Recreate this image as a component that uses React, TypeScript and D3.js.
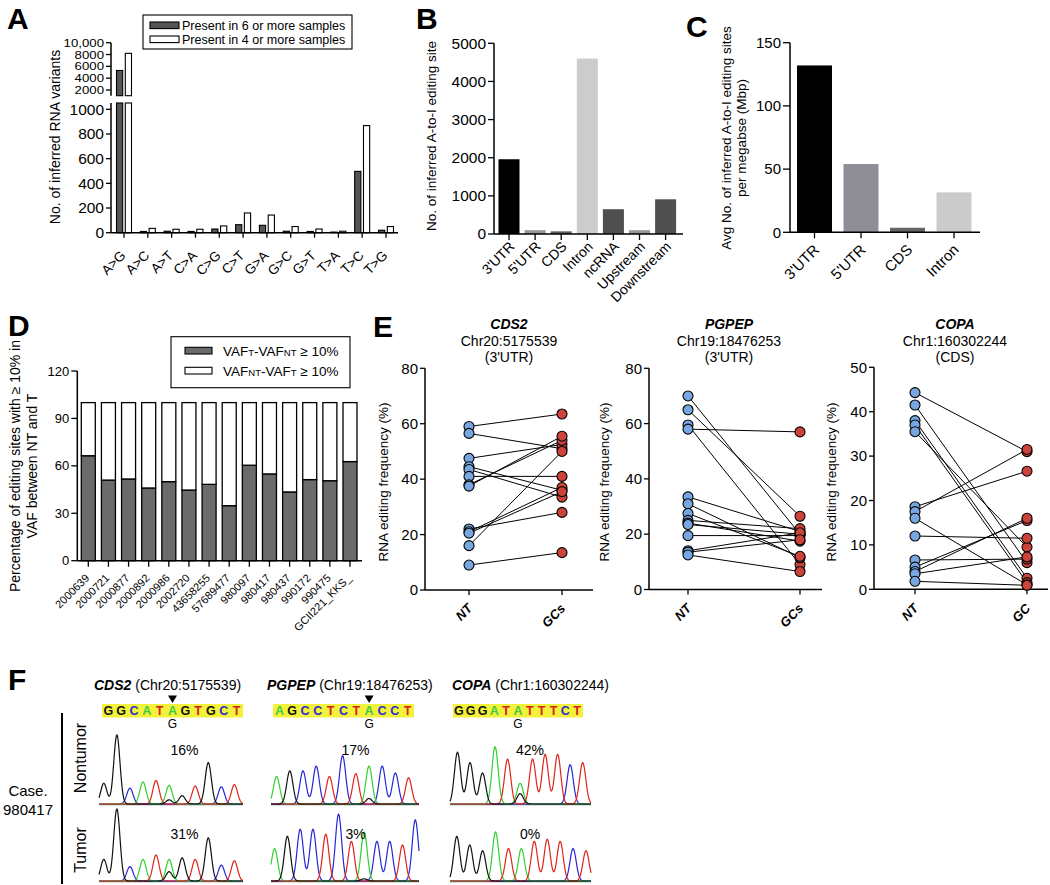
import React from 'react';
import * as d3 from 'd3';

const FONT = "'Liberation Sans', Arial, Helvetica, sans-serif";

// ---------- Panel A data ----------
const mutTypes = ['A>G', 'A>C', 'A>T', 'C>A', 'C>G', 'C>T', 'G>A', 'G>C', 'G>T', 'T>A', 'T>C', 'T>G'];
const present6 = [5300, 10, 12, 10, 30, 65, 60, 12, 10, 5, 497, 20];
const present4 = [8200, 35, 28, 28, 55, 160, 143, 50, 30, 12, 868, 50];
const aUpperTicks = [2000, 4000, 6000, 8000, 10000];
const aUpperTickLabels = ['2000', '4000', '6000', '8000', '10,000'];
const aLowerTicks = [0, 200, 400, 600, 800, 1000];
const aLegend = ['Present in 6 or more samples', 'Present in 4 or more samples'];

// ---------- Panel B data ----------
const regionsB = ["3'UTR", "5'UTR", 'CDS', 'Intron', 'ncRNA', 'Upstream', 'Downstream'];
const sitesB = [1960, 100, 70, 4600, 650, 100, 910];
const colorsB = ['#000000', '#97959c', '#5e5e5e', '#cccccc', '#4f4f4f', '#97959c', '#4f4f4f'];
const bTicks = [0, 1000, 2000, 3000, 4000, 5000];

// ---------- Panel C data ----------
const regionsC = ["3'UTR", "5'UTR", 'CDS', 'Intron'];
const densityC = [132, 54, 3.6, 31.6];
const colorsC = ['#000000', '#8f8d95', '#676767', '#cbcbcb'];
const cTicks = [0, 50, 100, 150];

// ---------- Panel D data ----------
const samplesD = ['2000639', '2000721', '2000877', '2000892', '2000986', '2002720', '43658255', '57689477', '980097', '980417', '980437', '990172', '990475', 'GCII221_KKS_'];
const upD = [66.4, 51, 51.7, 46, 50, 44.7, 48.3, 34.8, 60.4, 54.9, 43.5, 51.3, 50.6, 62.7];
const downD = [33.6, 49, 48.3, 54, 50, 55.3, 51.7, 65.2, 39.6, 45.1, 56.5, 48.7, 49.4, 37.3];
const dTicks = [0, 30, 60, 90, 120];

// ---------- Panel E data ----------
const e1NT = [59, 56.5, 47.5, 44.5, 43.5, 41, 38, 37.5, 22, 21, 20.5, 16, 9];
const e1GC = [63.5, 51, 52.5, 36, 33.5, 41, 54, 55.5, 28, 37, 35.5, 50, 13.5];
const e2NT = [70, 65, 59.5, 58, 33.5, 31, 27.5, 25, 24, 23.5, 19.5, 14, 13.5, 12.5];
const e2GC = [20, 26.5, 9, 57, 21, 11.5, 12, 22, 17.5, 20, 19.5, 20.5, 18, 6.5];
const e3NT = [44.3, 41.5, 38, 37, 35.5, 18.6, 17.5, 16, 12, 6.6, 5, 4, 3.5, 1.8];
const e3GC = [31, 6, 2.5, 1.5, 9.5, 26.6, 31.5, 1, 11.5, 6.8, 15.5, 16, 7.3, 0.9];
const eTicks80 = [0, 20, 40, 60, 80];
const eTicks50 = [0, 10, 20, 30, 40, 50];

// ---------- Panel F data ----------
const seqCDS2 = 'GGCATAGTGCT';
const seqPGPEP = 'AGCCTCTACCT';
const seqCOPA = 'GGGATATTTCT';
const editIdx = [5, 7, 5];
const pctNT = ['16%', '17%', '42%'];
const pctT = ['31%', '3%', '0%'];
// [base index, base, relative peak height]
const cds2NT = [[0, 'G', .3], [1, 'G', 1], [2, 'C', .23], [3, 'A', .32], [4, 'T', .34], [5, 'A', .27], [5, 'G', .06], [6, 'G', .12], [7, 'T', .26], [8, 'G', .6], [9, 'C', .25], [10, 'T', .28]];
const cds2T = [[0, 'G', .3], [1, 'G', 1], [2, 'C', .2], [3, 'A', .3], [4, 'T', .36], [5, 'A', .3], [5, 'G', .13], [6, 'G', .32], [7, 'T', .3], [8, 'G', .6], [9, 'C', .22], [10, 'T', .28]];
const pgpepNT = [[0, 'A', .4], [1, 'G', .48], [2, 'C', .48], [3, 'C', .55], [4, 'T', .4], [5, 'C', .7], [6, 'T', .44], [7, 'A', .55], [7, 'G', .08], [8, 'C', .55], [9, 'C', .45], [10, 'T', .38]];
const pgpepT = [[0, 'A', .45], [1, 'G', .62], [2, 'C', .72], [3, 'C', .72], [4, 'T', .65], [5, 'C', .93], [6, 'T', .55], [7, 'A', .68], [7, 'G', .03], [8, 'C', .55], [9, 'C', .55], [10, 'T', .5], [11, 'C', .85]];
const copaNT = [[0, 'G', .75], [1, 'G', .6], [2, 'G', .45], [3, 'A', .83], [4, 'T', .65], [5, 'A', .3], [5, 'G', .15], [6, 'T', .65], [7, 'T', .72], [8, 'T', .72], [9, 'C', .57], [10, 'T', .6]];
const copaT = [[0, 'G', .62], [1, 'G', .5], [2, 'G', .42], [3, 'A', .68], [4, 'T', .45], [5, 'A', .45], [6, 'T', .55], [7, 'T', .58], [8, 'T', .55], [9, 'C', .45], [10, 'T', .42]];

const baseColor: Record<string, string> = { G: '#111111', A: '#2fd12f', C: '#2626d6', T: '#e0231b' };
const seqColor: Record<string, string> = { G: '#111111', A: '#45c845', C: '#2c2cd0', T: '#d82020' };

const PanelLabel = ({ x, y, t }: { x: number; y: number; t: string }) => (
  <text x={x} y={y} fontSize={30} fontWeight="bold" fontFamily="'Liberation Sans', Arial">{t}</text>
);

const RotLabel = ({ x, y, t, size, weight, style }: any) => (
  <text transform={`translate(${x},${y}) rotate(-45)`} textAnchor="end" dy="0.35em" fontSize={size}
    fontWeight={weight || 'normal'} fontStyle={style || 'normal'} fill="#000">{t}</text>
);

function PanelA() {
  const xs = d3.scalePoint<string>().domain(mutTypes).range([124, 386]);
  const yL = d3.scaleLinear().domain([0, 1000]).range([232.7, 109.3]);
  const yU = d3.scaleLinear().domain([2000, 10000]).range([90, 42.7]);
  const axisX = 111;
  const lowTop = 103, upBottom = 95.7;
  const bar = (v: number, x: number, w: number, fill: string, key: string) => {
    if (v <= 1000) {
      return <rect key={key} x={x} y={yL(v)} width={w} height={yL(0) - yL(v)} fill={fill} stroke="#000" strokeWidth={1.1} />;
    }
    return (
      <g key={key}>
        <rect x={x} y={lowTop} width={w} height={yL(0) - lowTop} fill={fill} stroke="#000" strokeWidth={1.1} />
        <rect x={x} y={yU(v)} width={w} height={upBottom - yU(v)} fill={fill} stroke="#000" strokeWidth={1.1} />
      </g>
    );
  };
  return (
    <g>
      <PanelLabel x={7} y={29} t="A" />
      {mutTypes.map((m, i) => {
        const cx = xs(m)!;
        return (
          <g key={m}>
            {bar(present6[i], cx - 7.5, 6.2, '#555555', 'd')}
            {bar(present4[i], cx + 1.3, 6.2, '#ffffff', 'w')}
          </g>
        );
      })}
      <line x1={axisX} x2={axisX} y1={42.7} y2={upBottom} stroke="#000" strokeWidth={1.5} />
      <line x1={axisX} x2={axisX} y1={lowTop} y2={yL(0)} stroke="#000" strokeWidth={1.5} />
      {aUpperTicks.map((t, i) => (
        <g key={t}>
          <line x1={axisX - 5} x2={axisX} y1={yU(t)} y2={yU(t)} stroke="#000" strokeWidth={1.3} />
          <text x={axisX - 7} y={yU(t)} dy="0.35em" textAnchor="end" fontSize={11.5} transform={`translate(${axisX - 7},${yU(t)}) scale(1.15,1) translate(${-(axisX - 7)},${-yU(t)})`}>{aUpperTickLabels[i]}</text>
        </g>
      ))}
      {aLowerTicks.map((t) => (
        <g key={t}>
          <line x1={axisX - 5} x2={axisX} y1={yL(t)} y2={yL(t)} stroke="#000" strokeWidth={1.3} />
          <text x={axisX - 7} y={yL(t)} dy="0.35em" textAnchor="end" fontSize={15.5}>{t}</text>
        </g>
      ))}
      <line x1={axisX} x2={398} y1={yL(0)} y2={yL(0)} stroke="#000" strokeWidth={1.5} />
      {mutTypes.map((m) => (
        <g key={m}>
          <line x1={xs(m)} x2={xs(m)} y1={yL(0)} y2={yL(0) + 5} stroke="#000" strokeWidth={1.3} />
          <RotLabel x={xs(m)! - 1} y={253} t={m} size={13.5} />
        </g>
      ))}
      <text transform="translate(60,137) rotate(-90)" textAnchor="middle" fontSize={14}>No. of inferred RNA variants</text>
      <rect x={143} y={15} width={209} height={34} fill="#fff" stroke="#000" strokeWidth={1.1} />
      <rect x={150} y={22} width={29} height={6.6} fill="#555" stroke="#000" strokeWidth={1.1} />
      <rect x={150} y={36} width={29} height={6.6} fill="#fff" stroke="#000" strokeWidth={1.1} />
      <text x={182} y={29.5} fontSize={12.5}>{aLegend[0]}</text>
      <text x={182} y={43.5} fontSize={12.5}>{aLegend[1]}</text>
    </g>
  );
}

function PanelB() {
  const xs = d3.scalePoint<string>().domain(regionsB).range([509, 665.6]);
  const y = d3.scaleLinear().domain([0, 5000]).range([234, 43.3]);
  const axisX = 494;
  return (
    <g>
      <PanelLabel x={416} y={29} t="B" />
      {regionsB.map((r, i) => (
        <rect key={r} x={xs(r)! - 10.5} y={y(sitesB[i])} width={21} height={y(0) - y(sitesB[i])} fill={colorsB[i]} />
      ))}
      <line x1={axisX} x2={axisX} y1={y(5000)} y2={y(0)} stroke="#000" strokeWidth={1.5} />
      {bTicks.map((t) => (
        <g key={t}>
          <line x1={axisX - 6} x2={axisX} y1={y(t)} y2={y(t)} stroke="#000" strokeWidth={1.3} />
          <text x={axisX - 8} y={y(t)} dy="0.35em" textAnchor="end" fontSize={15.5}>{t}</text>
        </g>
      ))}
      <line x1={axisX} x2={683} y1={y(0)} y2={y(0)} stroke="#000" strokeWidth={1.5} />
      {regionsB.map((r) => (
        <g key={r}>
          <line x1={xs(r)} x2={xs(r)} y1={y(0)} y2={y(0) + 6} stroke="#000" strokeWidth={1.3} />
          <RotLabel x={xs(r)! + 3} y={244} t={r} size={14} />
        </g>
      ))}
      <text transform="translate(436,136) rotate(-90)" textAnchor="middle" fontSize={13.5}>No. of inferred A-to-I editing site</text>
    </g>
  );
}

function PanelC() {
  const xs = d3.scalePoint<string>().domain(regionsC).range([814.5, 954]);
  const y = d3.scaleLinear().domain([0, 150]).range([232.3, 42.7]);
  const axisX = 790;
  return (
    <g>
      <PanelLabel x={686} y={37} t="C" />
      {regionsC.map((r, i) => (
        <rect key={r} x={xs(r)! - 17.5} y={y(densityC[i])} width={35} height={y(0) - y(densityC[i])} fill={colorsC[i]} />
      ))}
      <line x1={axisX} x2={axisX} y1={y(150)} y2={y(0)} stroke="#000" strokeWidth={1.5} />
      {cTicks.map((t) => (
        <g key={t}>
          <line x1={axisX - 7} x2={axisX} y1={y(t)} y2={y(t)} stroke="#000" strokeWidth={1.3} />
          <text x={axisX - 9} y={y(t)} dy="0.35em" textAnchor="end" fontSize={15}>{t}</text>
        </g>
      ))}
      <line x1={axisX} x2={980} y1={y(0)} y2={y(0)} stroke="#000" strokeWidth={1.5} />
      {regionsC.map((r) => (
        <g key={r}>
          <line x1={xs(r)} x2={xs(r)} y1={y(0)} y2={y(0) + 6} stroke="#000" strokeWidth={1.3} />
          <RotLabel x={xs(r)! + 2} y={247} t={r} size={15} />
        </g>
      ))}
      <text transform="translate(731,138) rotate(-90)" textAnchor="middle" fontSize={13.5}>Avg No. of inferred A-to-I editing sites</text>
      <text transform="translate(746,138) rotate(-90)" textAnchor="middle" fontSize={13.5}>per megabse (Mbp)</text>
    </g>
  );
}

function PanelD() {
  const xs = d3.scalePoint<string>().domain(samplesD).range([88.3, 350]);
  const y = d3.scaleLinear().domain([0, 120]).range([560.7, 371]);
  const axisX = 77.3;
  const stack = d3.stack<any>().keys(['up', 'down'])(samplesD.map((s, i) => ({ s, up: upD[i], down: downD[i] })));
  return (
    <g>
      <PanelLabel x={8} y={336} t="D" />
      {stack.map((layer, li) => (
        <g key={li}>
          {layer.map((d, i) => (
            <rect key={i} x={xs(samplesD[i])! - 7} y={y(d[1])} width={14} height={y(d[0]) - y(d[1])}
              fill={li === 0 ? '#6b6b6b' : '#ffffff'} stroke="#000" strokeWidth={1.3} />
          ))}
        </g>
      ))}
      <line x1={axisX} x2={axisX} y1={y(120)} y2={y(0)} stroke="#000" strokeWidth={1.5} />
      {dTicks.map((t) => (
        <g key={t}>
          <line x1={axisX - 6} x2={axisX} y1={y(t)} y2={y(t)} stroke="#000" strokeWidth={1.3} />
          <text x={axisX - 8} y={y(t)} dy="0.35em" textAnchor="end" fontSize={13}>{t}</text>
        </g>
      ))}
      <line x1={axisX} x2={362} y1={y(0)} y2={y(0)} stroke="#000" strokeWidth={1.5} />
      {samplesD.map((s) => (
        <g key={s}>
          <line x1={xs(s)} x2={xs(s)} y1={y(0)} y2={y(0) + 6} stroke="#000" strokeWidth={1.3} />
          <RotLabel x={xs(s)! - 1} y={576} t={s} size={11} />
        </g>
      ))}
      <text transform="translate(20,466) rotate(-90)" textAnchor="middle" fontSize={14}>Percentage of editing sites with ≥ 10% in</text>
      <text transform="translate(37,466) rotate(-90)" textAnchor="middle" fontSize={14}>VAF between NT and T</text>
      <rect x={171} y={336.7} width={179} height={51} fill="#fff" stroke="#000" strokeWidth={1.1} />
      <rect x={185} y={347.3} width={27} height={6.7} fill="#6b6b6b" stroke="#000" strokeWidth={1.1} />
      <rect x={185} y={367.3} width={27} height={6.7} fill="#fff" stroke="#000" strokeWidth={1.1} />
      <text x={223} y={355.5} fontSize={13.5}>VAF<tspan fontSize={9.5}>T</tspan>-VAF<tspan fontSize={9.5}>NT</tspan> ≥ 10%</text>
      <text x={223} y={376} fontSize={13.5}>VAF<tspan fontSize={9.5}>NT</tspan>-VAF<tspan fontSize={9.5}>T</tspan> ≥ 10%</text>
    </g>
  );
}

function PairedPlot({ cfg }: any) {
  const { axisX, ntX, gcX, xEnd, yTop, y0, max, ticks, nt, gc, gene, chr, region, titleX, gcLabel, titleYX } = cfg;
  const y = d3.scaleLinear().domain([0, max]).range([y0, yTop]);
  const xs = d3.scalePoint<string>().domain(['NT', gcLabel]).range([ntX, gcX]);
  return (
    <g>
      <text x={titleX} y={329} textAnchor="middle" fontSize={14} fontWeight="bold" fontStyle="italic">{gene}</text>
      <text x={titleX} y={346} textAnchor="middle" fontSize={14}>{chr}</text>
      <text x={titleX} y={362} textAnchor="middle" fontSize={14}>{region}</text>
      <line x1={axisX} x2={axisX} y1={yTop} y2={y0} stroke="#000" strokeWidth={1.5} />
      {ticks.map((t: number) => (
        <g key={t}>
          <line x1={axisX - 5} x2={axisX} y1={y(t)} y2={y(t)} stroke="#000" strokeWidth={1.3} />
          <text x={axisX - 7} y={y(t)} dy="0.35em" textAnchor="end" fontSize={15}>{t}</text>
        </g>
      ))}
      <line x1={axisX} x2={xEnd} y1={y0} y2={y0} stroke="#000" strokeWidth={1.5} />
      {['NT', gcLabel].map((c: string) => (
        <g key={c}>
          <line x1={xs(c)} x2={xs(c)} y1={y0} y2={y0 + 5} stroke="#000" strokeWidth={1.3} />
          <RotLabel x={xs(c)! + 1} y={606} t={c} size={13} weight="bold" style="italic" />
        </g>
      ))}
      {nt.map((v: number, i: number) => (
        <line key={'l' + i} x1={xs('NT')} y1={y(v)} x2={xs(gcLabel)} y2={y(gc[i])} stroke="#000" strokeWidth={1} />
      ))}
      {nt.map((v: number, i: number) => (
        <circle key={'n' + i} cx={xs('NT')} cy={y(v)} r={5} fill="#77a6e0" stroke="#000" strokeWidth={1.1} />
      ))}
      {gc.map((v: number, i: number) => (
        <circle key={'g' + i} cx={xs(gcLabel)} cy={y(v)} r={5} fill="#cc433c" stroke="#000" strokeWidth={1.1} />
      ))}
      <text transform={`translate(${titleYX},482) rotate(-90)`} textAnchor="middle" fontSize={13.5}>RNA editing frequency (%)</text>
    </g>
  );
}

function PanelE() {
  const cfgs = [
    { axisX: 425, ntX: 469, gcX: 562, xEnd: 593, yTop: 368.3, y0: 590, max: 80, ticks: eTicks80, nt: e1NT, gc: e1GC, gene: 'CDS2', chr: 'Chr20:5175539', region: "(3'UTR)", titleX: 509, gcLabel: 'GCs', titleYX: 388 },
    { axisX: 649, ntX: 688, gcX: 800, xEnd: 822, yTop: 368.3, y0: 589.5, max: 80, ticks: eTicks80, nt: e2NT, gc: e2GC, gene: 'PGPEP', chr: 'Chr19:18476253', region: "(3'UTR)", titleX: 729, gcLabel: 'GCs', titleYX: 609 },
    { axisX: 874, ntX: 915, gcX: 1027, xEnd: 1048, yTop: 367.3, y0: 589.3, max: 50, ticks: eTicks50, nt: e3NT, gc: e3GC, gene: 'COPA', chr: 'Chr1:160302244', region: '(CDS)', titleX: 955, gcLabel: 'GC', titleYX: 836 },
  ];
  return (
    <g>
      <PanelLabel x={373} y={337} t="E" />
      {cfgs.map((c, i) => <PairedPlot key={i} cfg={c} />)}
    </g>
  );
}

function Trace({ peaks, x0, x1, n, base, H, xMin, xMax }: any) {
  const xp = d3.scaleLinear().domain([0, n - 1]).range([x0, x1]);
  const sigma = 3.1;
  const bases = ['C', 'A', 'T', 'G'];
  const xsamp = d3.range(xMin, xMax + 0.01, 0.5);
  return (
    <g>
      <line x1={xMin} x2={xMax} y1={base + 0.5} y2={base + 0.5} stroke="#777" strokeWidth={1.6} />
      {bases.map((b) => {
        const pk = peaks.filter((p: any) => p[1] === b);
        if (!pk.length) return null;
        const line = d3.line<number>()
          .x((x) => x)
          .y((x) => base - pk.reduce((s: number, p: any) => s + p[2] * H * Math.exp(-((x - xp(p[0])) ** 2) / (2 * sigma * sigma)), 0));
        return <path key={b} d={line(xsamp) || ''} fill="none" stroke={baseColor[b]} strokeWidth={1.2} />;
      })}
    </g>
  );
}

function PanelF() {
  const cols = [
    { gene: 'CDS2', chr: ' (Chr20:5175539)', seq: seqCDS2, box: [102, 243], titleX: 94, nt: cds2NT, t: cds2T, ntR: [103.8, 234.4, 11], tR: [103.8, 234.4, 11], pan: [99, 243], g: true },
    { gene: 'PGPEP', chr: ' (Chr19:18476253)', seq: seqPGPEP, box: [273, 414], titleX: 267, nt: pgpepNT, t: pgpepT, ntR: [276.6, 408.6, 11], tR: [274.6, 415.3, 12], pan: [271, 419], g: true },
    { gene: 'COPA', chr: ' (Chr1:160302244)', seq: seqCOPA, box: [453, 583], titleX: 452, nt: copaNT, t: copaT, ntR: [457.5, 582.7, 11], tR: [456.8, 586, 11], pan: [450, 591], g: false },
  ];
  return (
    <g>
      <PanelLabel x={8} y={690} t="F" />
      <line x1={62} x2={62} y1={713} y2={884} stroke="#000" strokeWidth={2} />
      <text x={28} y={796} textAnchor="middle" fontSize={15}>Case.</text>
      <text x={28} y={815} textAnchor="middle" fontSize={15}>980417</text>
      <text transform="translate(86,758) rotate(-90)" textAnchor="middle" fontSize={16}>Nontumor</text>
      <text transform="translate(86,850) rotate(-90)" textAnchor="middle" fontSize={16}>Tumor</text>
      {cols.map((c, ci) => {
        const lx = d3.scalePoint<number>().domain(d3.range(c.seq.length)).range([c.box[0], c.box[1]]).padding(0.5);
        const ex = lx(editIdx[ci])!;
        return (
          <g key={ci}>
            <text x={c.titleX} y={690} fontSize={14}>
              <tspan fontWeight="bold" fontStyle="italic">{c.gene}</tspan>{c.chr}
            </text>
            {c.g && <path d={`M${ex - 4.5},${695.5} L${ex + 4.5},${695.5} L${ex},${703} Z`} fill="#000" />}
            <rect x={c.box[0]} y={704} width={c.box[1] - c.box[0]} height={13.5} fill="#f3f23a" />
            {c.seq.split('').map((b, i) => (
              <text key={i} x={lx(i)} y={715} textAnchor="middle" fontSize={12.5} fontWeight="bold" fill={seqColor[b]}>{b}</text>
            ))}
            <text x={ex} y={728} textAnchor="middle" fontSize={12}>G</text>
            <Trace peaks={c.nt} x0={c.ntR[0]} x1={c.ntR[1]} n={c.ntR[2]} base={804} H={69} xMin={c.pan[0]} xMax={c.pan[1]} />
            <Trace peaks={c.t} x0={c.tR[0]} x1={c.tR[1]} n={c.tR[2]} base={881} H={72} xMin={c.pan[0]} xMax={c.pan[1]} />
            <text x={(c.box[0] + c.box[1]) / 2 + 12} y={755} textAnchor="middle" fontSize={14}>{pctNT[ci]}</text>
            <text x={(c.box[0] + c.box[1]) / 2 + 12} y={839} textAnchor="middle" fontSize={14}>{pctT[ci]}</text>
          </g>
        );
      })}
    </g>
  );
}

export default function App() {
  return (
    <svg width={1050} height={885} style={{ position: 'absolute', left: 0, top: 0, background: '#fff' }}
      fontFamily={FONT} fill="#000">
      <rect x={0} y={0} width={1050} height={885} fill="#fff" />
      <PanelA />
      <PanelB />
      <PanelC />
      <PanelD />
      <PanelE />
      <PanelF />
    </svg>
  );
}
